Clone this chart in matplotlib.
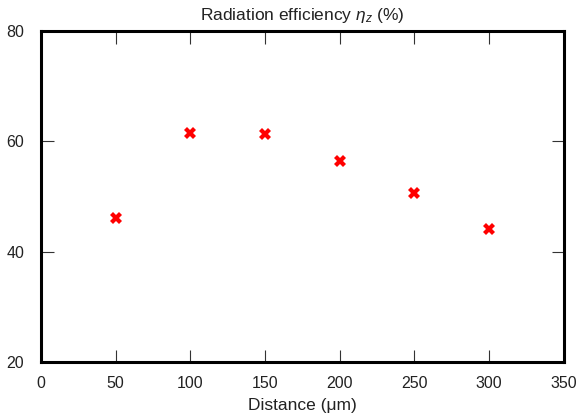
import matplotlib
matplotlib.use('Agg')
import matplotlib.pyplot as plt

distance_um = [50, 100, 150, 200, 250, 300]
efficiency_pct = [46.1, 61.6, 61.4, 56.4, 50.6, 44.2]

x_ticks = [0, 50, 100, 150, 200, 250, 300, 350]
y_ticks = [20, 40, 60, 80]

plt.rcParams['font.family'] = ['Liberation Sans', 'DejaVu Sans']
plt.rcParams['mathtext.fontset'] = 'custom'
plt.rcParams['mathtext.it'] = 'Liberation Sans:italic'
plt.rcParams['mathtext.rm'] = 'Liberation Sans'

text_color = '#222222'

fig = plt.figure(figsize=(5.77, 4.19), dpi=100)
ax = fig.add_axes([0.071, 0.136, 0.906, 0.790])

ax.plot(distance_um, efficiency_pct, linestyle='none', marker='X',
        markersize=9, color='#ff0000', markeredgewidth=0)

ax.set_xlim(0, 350)
ax.set_ylim(20, 80)
ax.set_xticks(x_ticks)
ax.set_yticks(y_ticks)

for side in ['left', 'right', 'top', 'bottom']:
    ax.spines[side].set_linewidth(2.2)
    ax.spines[side].set_color('black')

ax.tick_params(direction='in', length=9, width=0.8, color='#333333',
               top=True, right=True, labelsize=11.5, pad=10,
               labelcolor=text_color)
ax.tick_params(axis='y', pad=12)

ax.set_title('Radiation efficiency $\\eta_z$ (%)', fontsize=12.5, pad=8,
             color=text_color)
ax.set_xlabel('Distance (μm)', fontsize=12.5, labelpad=5, color=text_color)

fig.savefig('out.png', dpi=100)
